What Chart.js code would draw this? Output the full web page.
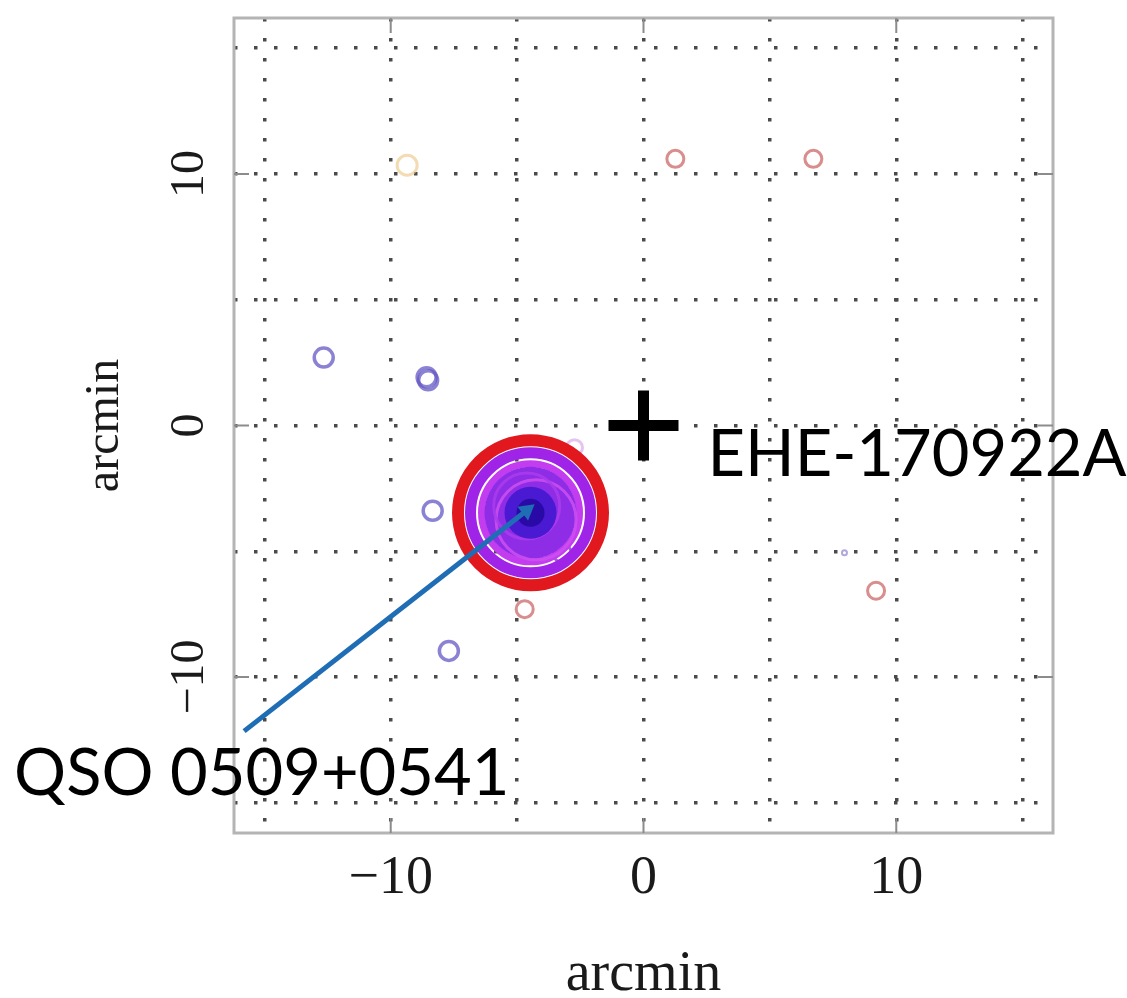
<!DOCTYPE html>
<html>
<head>
<meta charset="utf-8">
<script src="https://cdn.jsdelivr.net/npm/chart.js@4.4.1/dist/chart.umd.min.js"></script>
<style>
  html, body { margin: 0; padding: 0; background: #ffffff; }
  #wrap { width: 1127px; height: 998px; }
</style>
</head>
<body>
<div id="wrap"><canvas id="sky" width="1127" height="998"></canvas></div>
<script>
// Axis layout (arcmin offsets from the alert position)
const axisRange = [-16.2, 16.2];
const gridValues = [-15, -10, -5, 0, 5, 10, 15];
const labelledTicks = [-10, 0, 10];

// Neutrino alert position
const alertName = 'EHE-170922A';
const alertX = [0];
const alertY = [0];

// Catalogue sources in the field
const blueSrcX = [-12.65, -8.58, -8.52, -8.34, -7.70];
const blueSrcY = [2.70, 1.92, 1.80, -3.39, -8.96];
const faintSrcX = [7.95];
const faintSrcY = [-5.06];
const redSrcX = [1.26, 6.72, 9.20, -4.70];
const redSrcY = [10.60, 10.60, -6.57, -7.30];
const orangeSrcX = [-9.35];
const orangeSrcY = [10.35];

// Blazar counterpart and its overlapping detections
const qsoName = 'QSO 0509+0541';
const qsoX = [-4.47];
const qsoY = [-3.47];
const qsoDetX = [-4.25, -4.62, -3.20, -2.73];
const qsoDetY = [-3.75, -3.20, -5.10, -0.88];

// Pointer from the label to the counterpart
const pointerX = [-15.80, -4.62];
const pointerY = [-12.15, -3.38];

const serif = "'Liberation Serif', 'DejaVu Serif', serif";

function tickText(v) {
  if (!labelledTicks.includes(v)) return '';
  return v < 0 ? '\u2212' + Math.abs(v) : String(v);
}

function pts(xs, ys) {
  return xs.map((x, i) => ({ x, y: ys[i] }));
}

function ring(xs, ys, color, radius, width, order, fill) {
  return {
    data: pts(xs, ys),
    pointStyle: 'circle',
    pointRadius: radius,
    pointBorderWidth: width,
    pointBorderColor: color,
    pointBackgroundColor: fill || 'rgba(0,0,0,0)',
    order
  };
}

// Keep the plot box fixed: no extra room reserved for edge labels
function fixBox(size) {
  return (s) => {
    if (s.isHorizontal()) s.height = size; else s.width = size;
    s.paddingTop = 0; s.paddingBottom = 0; s.paddingLeft = 0; s.paddingRight = 0;
  };
}

const frameAndLabels = {
  id: 'frameAndLabels',
  beforeDatasetsDraw(chart) {
    const { ctx, chartArea: a, scales: { x, y } } = chart;
    ctx.save();
    ctx.strokeStyle = '#b4b4b4';
    ctx.lineWidth = 3;
    ctx.strokeRect(a.left, a.top, a.right - a.left, a.bottom - a.top);
    ctx.strokeStyle = '#8c8c8c';
    ctx.lineWidth = 2;
    const len = 15;
    labelledTicks.forEach(v => {
      const px = x.getPixelForValue(v);
      const py = y.getPixelForValue(v);
      ctx.beginPath();
      ctx.moveTo(px, a.bottom); ctx.lineTo(px, a.bottom - len);
      ctx.moveTo(px, a.top); ctx.lineTo(px, a.top + len);
      ctx.moveTo(a.left, py); ctx.lineTo(a.left + len, py);
      ctx.moveTo(a.right, py); ctx.lineTo(a.right - len, py);
      ctx.stroke();
    });
    ctx.restore();
  },
  afterDatasetsDraw(chart) {
    const { ctx, scales: { x, y } } = chart;
    ctx.save();
    ctx.fillStyle = '#000000';
    ctx.textBaseline = 'alphabetic';
    ctx.textAlign = 'left';
    ctx.font = "65px Lato, 'Open Sans', sans-serif";
    ctx.fillText(alertName, x.getPixelForValue(alertX[0]) + 64, y.getPixelForValue(alertY[0]) + 50);
    ctx.fillText(qsoName, x.getPixelForValue(pointerX[0]) - 230, y.getPixelForValue(pointerY[0]) + 64);
    ctx.restore();
  }
};

const datasets = [
  // field sources
  ring(orangeSrcX, orangeSrcY, 'rgba(236,200,140,0.65)', 10, 3, 20),
  ring(redSrcX, redSrcY, 'rgba(208,112,112,0.8)', 8.5, 3, 20),
  ring(blueSrcX, blueSrcY, 'rgba(100,88,196,0.75)', 9.5, 3.5, 20),
  ring(faintSrcX, faintSrcY, 'rgba(120,110,200,0.6)', 2.5, 2, 20),
  // counterpart detections, outermost first
  ring(qsoX, qsoY, '#e2181f', 72.5, 12, 15),
  ring(qsoX, qsoY, '#a024e8', 60, 11, 14),
  ring(qsoX, qsoY, '#c43cf0', 49, 7, 13),
  ring(qsoX, qsoY, 'rgba(0,0,0,0)', 46, 0, 12, '#8e2ce6'),
  ring(qsoDetX.slice(0, 2), qsoDetY.slice(0, 2), ['rgba(205,80,240,0.85)', 'rgba(170,60,235,0.85)'], [40, 33], 3, 11),
  ring(qsoDetX.slice(2), qsoDetY.slice(2), ['rgba(140,70,205,0.85)', 'rgba(225,190,240,0.9)'], [9, 8], 3, 16),
  ring(qsoX, qsoY, 'rgba(0,0,0,0)', 26, 0, 10, '#4a1ad2'),
  ring(qsoX, qsoY, 'rgba(0,0,0,0)', 14, 0, 9, '#2a0aa6'),
  // alert position
  {
    data: pts(alertX, alertY),
    pointStyle: 'cross',
    pointRadius: 35,
    pointBorderWidth: 11,
    pointBorderColor: '#000000',
    order: 2
  },
  // pointer to the counterpart
  {
    type: 'line',
    data: pts(pointerX, pointerY),
    showLine: true,
    borderColor: '#1f6db4',
    borderWidth: 5,
    pointStyle: 'triangle',
    pointRadius: [0, 10],
    pointBorderWidth: 0,
    pointBackgroundColor: '#1f6db4',
    pointRotation: (c) => {
      const { x, y } = c.chart.scales;
      const dx = x.getPixelForValue(pointerX[1]) - x.getPixelForValue(pointerX[0]);
      const dy = y.getPixelForValue(pointerY[1]) - y.getPixelForValue(pointerY[0]);
      return Math.atan2(dy, dx) * 180 / Math.PI + 90;
    },
    order: 1
  }
];

new Chart(document.getElementById('sky'), {
  type: 'scatter',
  data: { datasets },
  plugins: [frameAndLabels],
  options: {
    responsive: false,
    devicePixelRatio: 1,
    animation: false,
    layout: { autoPadding: false, padding: { top: 18, right: 74, left: 0, bottom: 0 } },
    plugins: { legend: { display: false }, tooltip: { enabled: false } },
    scales: {
      x: {
        type: 'linear',
        position: 'bottom',
        min: axisRange[0],
        max: axisRange[1],
        afterBuildTicks: (s) => { s.ticks = gridValues.map(v => ({ value: v })); },
        afterFit: fixBox(165),
        grid: { color: '#4a4a4a', lineWidth: 3.5, drawTicks: false },
        border: { display: false, dash: [3.5, 16.5] },
        ticks: {
          autoSkip: false,
          maxRotation: 0,
          padding: 13,
          color: '#1a1a1a',
          font: { family: serif, size: 54 },
          callback: (v) => tickText(v)
        },
        title: {
          display: true,
          text: 'arcmin',
          color: '#1a1a1a',
          font: { family: serif, size: 56, lineHeight: 0.7 },
          padding: { top: 0, bottom: 3 }
        }
      },
      y: {
        type: 'linear',
        position: 'left',
        min: axisRange[0],
        max: axisRange[1],
        afterBuildTicks: (s) => { s.ticks = gridValues.map(v => ({ value: v })); },
        afterFit: fixBox(234),
        grid: { color: '#4a4a4a', lineWidth: 3.5, drawTicks: false },
        border: { display: false, dash: [3.5, 16.5] },
        ticks: {
          autoSkip: false,
          minRotation: 90,
          maxRotation: 90,
          crossAlign: 'center',
          padding: 6,
          color: '#1a1a1a',
          font: { family: serif, size: 48 },
          callback: (v) => tickText(v)
        },
        title: {
          display: true,
          text: 'arcmin',
          color: '#1a1a1a',
          font: { family: serif, size: 48, lineHeight: 1 },
          padding: { top: 81, bottom: 0 }
        }
      }
    }
  }
});
</script>
</body>
</html>
